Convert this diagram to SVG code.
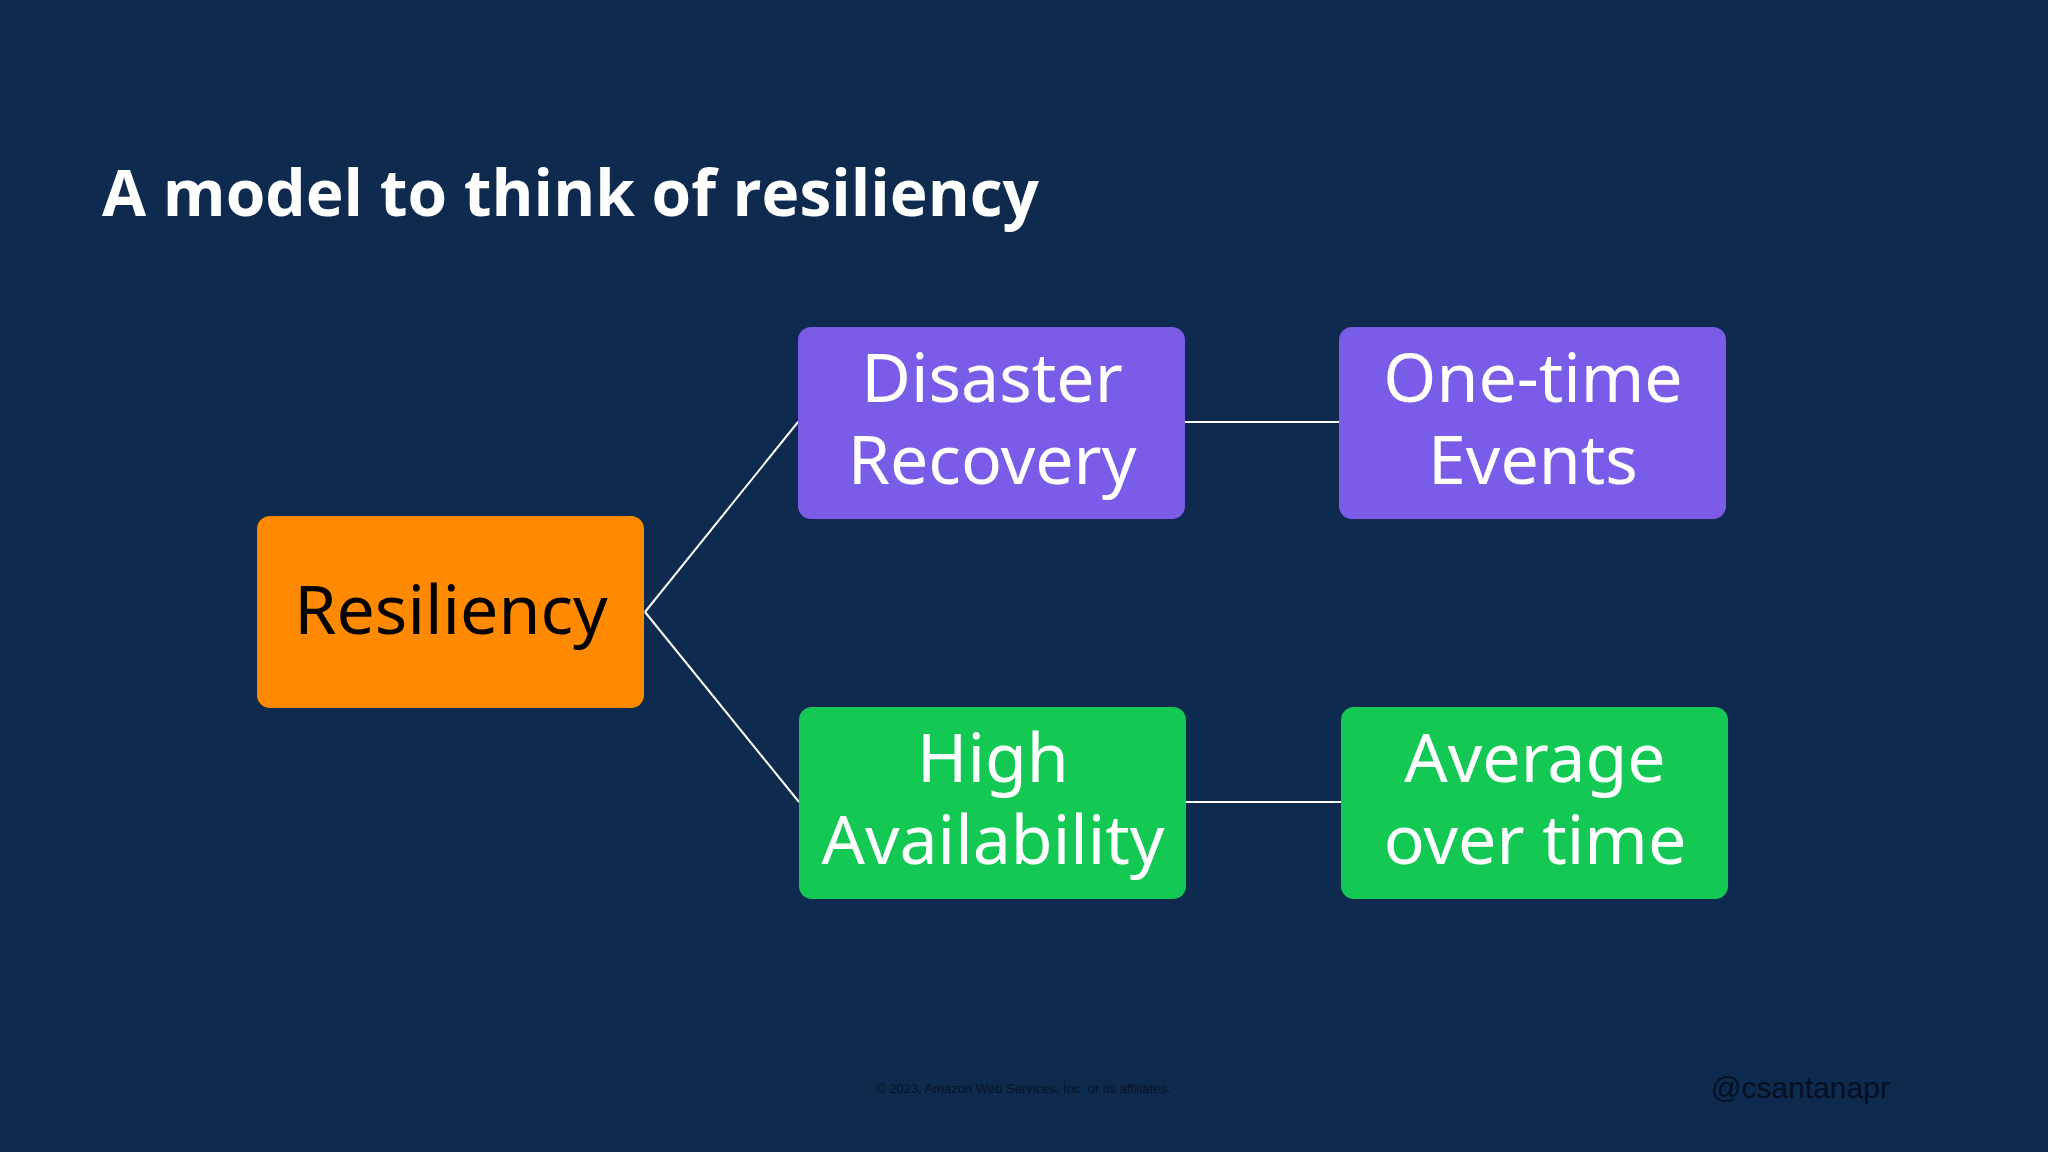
<svg xmlns="http://www.w3.org/2000/svg" width="2048" height="1152" viewBox="0 0 2048 1152">
<style>
.n text{font-family:"Noto Sans","Open Sans",sans-serif;font-size:68px;text-anchor:middle;fill:#fff}
.c line{stroke:#fff;stroke-width:2}
</style>
<rect width="2048" height="1152" fill="#0e2a4f"/>
<text x="102" y="216" font-family="Open Sans,Noto Sans,sans-serif" font-weight="bold" font-size="64" fill="#fff">A model to think of resiliency</text>
<g class="c">
<line x1="645" y1="612" x2="798" y2="422"/>
<line x1="645" y1="612" x2="799" y2="802"/>
<line x1="1185" y1="422" x2="1339" y2="422"/>
<line x1="1186" y1="802" x2="1341" y2="802"/>
</g>
<g id="resiliency" class="n"><rect x="257" y="516" width="387" height="192" rx="13" fill="#ff8a00"/><text x="451" y="634" style="fill:#000">Resiliency</text></g>
<g id="dr" class="n"><rect x="798" y="327" width="387" height="192" rx="13" fill="#7b5ce8"/><text x="992" y="402">Disaster</text><text x="992" y="484">Recovery</text></g>
<g id="ot" class="n"><rect x="1339" y="327" width="387" height="192" rx="13" fill="#7b5ce8"/><text x="1533" y="402">One-time</text><text x="1533" y="484">Events</text></g>
<g id="ha" class="n"><rect x="799" y="707" width="387" height="192" rx="13" fill="#13c954"/><text x="993" y="782">High</text><text x="993" y="864">Availability</text></g>
<g id="ao" class="n"><rect x="1341" y="707" width="387" height="192" rx="13" fill="#13c954"/><text x="1535" y="782">Average</text><text x="1535" y="864">over time</text></g>
<text x="876" y="1093" font-family="Liberation Sans,sans-serif" font-size="13" fill="#061428">© 2023, Amazon Web Services, Inc. or its affiliates.</text>
<text x="1711" y="1098" font-family="Liberation Sans,sans-serif" font-size="30" fill="#050f1f">@csantanapr</text>
</svg>
